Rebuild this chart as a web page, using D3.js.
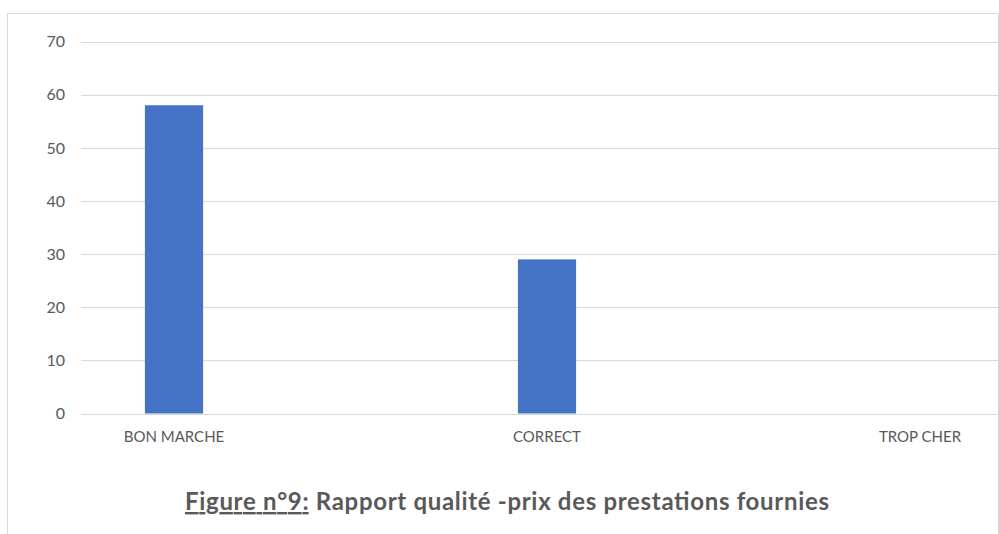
<!DOCTYPE html>
<html><head><meta charset="utf-8">
<script src="https://cdn.jsdelivr.net/npm/d3@7"></script>
<style>html,body{margin:0;padding:0;background:#fff;}svg{display:block;}</style>
</head><body>
<svg id="c" width="999" height="534"></svg>
<script>
const categories = ["BON MARCHE", "CORRECT", "TROP CHER"];
const values = [58, 29, 0];
const yTicks = [0, 10, 20, 30, 40, 50, 60, 70];
const titleBold = "Figure n°9:";
const titleRest = " Rapport qualité -prix des prestations fournies";

const svg = d3.select("#c");
const font = "Lato, 'Open Sans', sans-serif";
const grey = "#595959";

// frame
svg.append("rect").attr("x", 7.5).attr("y", 13.5).attr("width", 991).attr("height", 530)
  .attr("fill", "none").attr("stroke", "#d9d9d9").attr("stroke-width", 1);

const y = d3.scaleLinear().domain([0, 70]).range([413.5, 41.5]);
const x = d3.scaleBand().domain(categories).range([-12.5, 1106.5]).padding(0);
const gx0 = 81, gx1 = 998;

// gridlines
svg.append("g").selectAll("line").data(yTicks).join("line")
  .attr("x1", gx0).attr("x2", gx1)
  .attr("y1", d => Math.round(y(d)) + 0.5).attr("y2", d => Math.round(y(d)) + 0.5)
  .attr("stroke", "#d9d9d9").attr("stroke-width", 1);

// y labels
svg.append("g").selectAll("text").data(yTicks).join("text")
  .attr("x", 65).attr("y", d => y(d)).attr("dy", "0.36em")
  .attr("text-anchor", "end").attr("font-family", font).attr("font-size", 16)
  .attr("fill", grey).text(d => d);

// bars
const bw = x.bandwidth() * 0.156;
svg.append("g").selectAll("rect").data(categories).join("rect")
  .attr("x", (d) => x(d) + x.bandwidth() / 2 - bw / 2)
  .attr("width", bw)
  .attr("y", (d, i) => y(values[i]))
  .attr("height", (d, i) => y(0) - y(values[i]))
  .attr("fill", "#4472c4");

// redraw baseline on top
svg.append("line").attr("x1", gx0).attr("x2", gx1)
  .attr("y1", Math.round(y(0)) + 0.5).attr("y2", Math.round(y(0)) + 0.5)
  .attr("stroke", "#d9d9d9").attr("stroke-width", 1);

// category labels
svg.append("g").selectAll("text").data(categories).join("text")
  .attr("x", d => x(d) + x.bandwidth() / 2).attr("y", 442)
  .attr("text-anchor", "middle").attr("font-family", font).attr("font-size", 15)
  .attr("fill", grey).text(d => d);

// title
const t = svg.append("text").attr("x", 507).attr("y", 510)
  .attr("text-anchor", "middle").attr("font-family", font).attr("font-size", 24)
  .attr("font-weight", "bold").attr("fill", grey)
  .attr("textLength", 644).attr("lengthAdjust", "spacing");
t.append("tspan").attr("text-decoration", "underline").text(titleBold);
t.append("tspan").text(titleRest);
</script>
</body></html>
